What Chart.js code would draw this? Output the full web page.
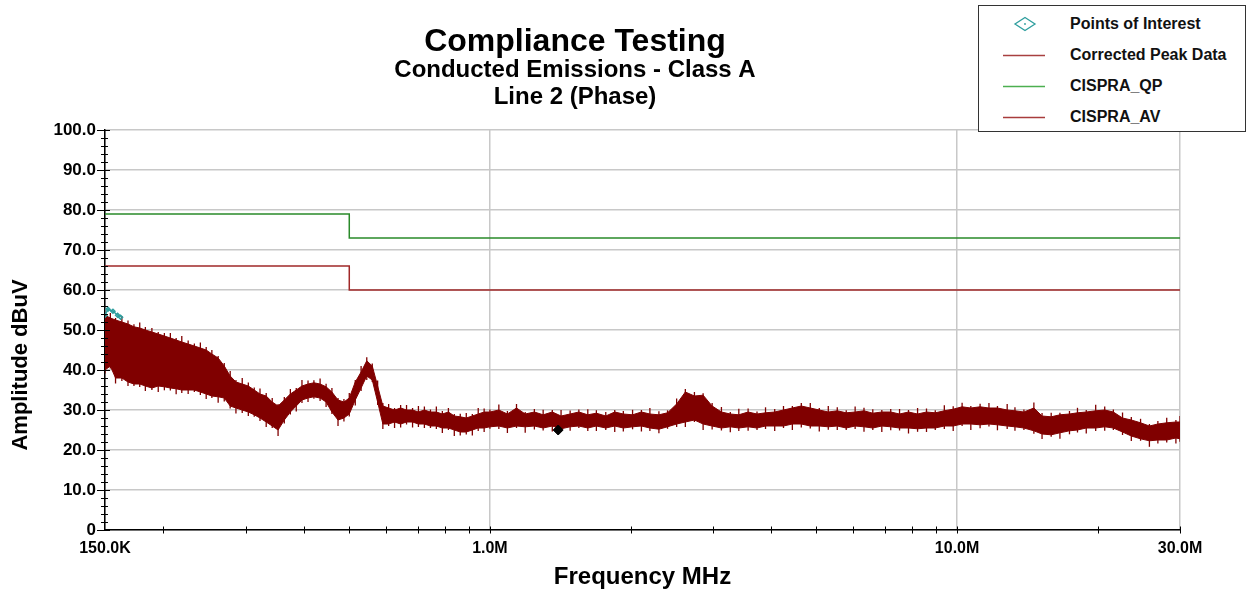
<!DOCTYPE html>
<html>
<head>
<meta charset="utf-8">
<title>Compliance Testing</title>
<script src="https://cdn.jsdelivr.net/npm/chart.js@4.4.1/dist/chart.umd.min.js"></script>
<style>
  body { margin: 0; background: #fff; font-family: "Liberation Sans", Arial, sans-serif; }
  #wrap { position: relative; width: 1248px; height: 595px; }
  #legend { position: absolute; left: 978px; top: 5px; width: 268px; height: 127px;
            box-sizing: border-box; border: 1px solid #333; background: #fff; }
  .row { position: absolute; left: 0; width: 100%; height: 20px; }
  .row svg { position: absolute; left: 24px; top: 0; }
  .row span { position: absolute; left: 91px; top: 0; line-height: 20px;
              font-size: 16px; font-weight: bold; color: #111; white-space: nowrap; }
</style>
</head>
<body>
<div id="wrap">
  <canvas id="chart" width="1248" height="595"></canvas>
  <div id="legend"></div>
</div>
<script>
// ==========================
// DATA
// ==========================
const titleMain = "Compliance Testing";
const titleSub1 = "Conducted Emissions - Class A";
const titleSub2 = "Line 2 (Phase)";
const xTitle = "Frequency MHz";
const yTitle = "Amplitude dBuV";

// x ticks (MHz)
const xTickValues = [0.15, 1, 10, 30];
const xTickLabels = ["150.0K", "1.0M", "10.0M", "30.0M"];
const xMinorTicks = [0.2, 0.3, 0.4, 0.5, 0.6, 0.7, 0.8, 0.9, 1, 2, 3, 4, 5, 6, 7, 8, 9, 10, 20, 30];

// limit lines
const qpFreq = [0.15, 0.5, 0.5, 30];
const qpLevel = [79, 79, 73, 73];
const avFreq = [0.15, 0.5, 0.5, 30];
const avLevel = [66, 66, 60, 60];

// corrected peak data: upper / lower envelope of the trace
const peakFreq = [
  0.150, 0.154, 0.158, 0.163, 0.168, 0.173, 0.178, 0.183, 0.189, 0.195,
  0.201, 0.207, 0.213, 0.219, 0.226, 0.233, 0.240, 0.247, 0.254, 0.262,
  0.270, 0.278, 0.286, 0.295, 0.304, 0.313, 0.322, 0.332, 0.342, 0.352,
  0.363, 0.374, 0.385, 0.396, 0.408, 0.420, 0.433, 0.446, 0.459, 0.473,
  0.487, 0.500,
  0.515, 0.530, 0.545, 0.560, 0.575, 0.590, 0.607, 0.625, 0.644, 0.663,
  0.683, 0.703, 0.724, 0.746, 0.768, 0.791, 0.815, 0.839, 0.864, 0.890,
  0.917, 0.944, 0.972,
  1.00, 1.045, 1.09, 1.14, 1.19, 1.245, 1.30, 1.36, 1.42, 1.485,
  1.55, 1.62, 1.69, 1.77, 1.85, 1.93, 2.02, 2.11, 2.20, 2.30,
  2.40, 2.51, 2.62, 2.74, 2.86, 2.99, 3.13, 3.27, 3.41, 3.57,
  3.73, 3.89, 4.07, 4.25, 4.44, 4.64, 4.85, 5.07, 5.30, 5.54,
  5.79, 6.05, 6.32, 6.60, 6.90, 7.21, 7.53, 7.87, 8.23, 8.60,
  8.98, 9.39, 9.81, 10.25, 10.7, 11.2, 11.7, 12.2, 12.8, 13.3,
  13.9, 14.6, 15.2, 15.9, 16.6, 17.4, 18.1, 18.9, 19.8, 20.7,
  21.6, 22.6, 23.6, 24.7, 25.8, 26.9, 28.1, 29.4, 30.0
];
const peakHi = [
  53.7, 53, 52.5, 52, 51.5, 50.8, 50.5, 50, 49.5, 49,
  48.5, 48, 47.5, 47, 46.5, 46, 45.5, 45, 44, 43,
  41, 38.5, 37, 36.5, 36, 35, 34, 33.5, 32, 31,
  32.5, 34, 35, 36, 36.5, 36.8, 36.5, 35.8, 34.5, 32.5,
  32, 33,
  37, 39.5, 42.3, 41, 36, 31, 30.5, 30, 30.5, 30,
  30, 29.5, 30, 29.5, 29.5, 29, 29.5, 28.5, 28.3, 28,
  28.5, 29, 29.5,
  29.5, 30, 29, 30.5, 29, 29.5, 28.8, 29.5, 28.5, 29,
  29.5, 28.8, 29.2, 28.5, 29.5, 29, 28.8, 29.5, 29, 28.8,
  29.3, 31.5, 34.5, 33.5, 33.7, 31, 29.5, 29, 28.8, 29.5,
  29, 29.3, 29.5, 30, 30.5, 31, 30.5, 30, 29.5, 29.8,
  29.3, 29.5, 29.8, 29.2, 29.5, 29.5, 29, 29.5, 29, 29.5,
  29.3, 29.8, 30.2, 30.8, 30.5, 30.8, 30.5, 30.5, 30, 29.8,
  29.5, 30.5, 28.5, 28.3, 28.8, 29, 29.3, 29.5, 29.8, 30,
  29.5, 28, 27.5, 26.8, 26, 26.5, 26.8, 27, 27
];
const peakLo = [
  40, 41, 38, 38, 37, 36.5, 36.5, 36, 35.5, 36,
  35.8, 35.5, 35.3, 35, 35, 35, 34.5, 34, 33.5, 33.3,
  33, 31, 30.5, 30, 29.5, 28.8, 28, 27, 26, 25,
  27.5, 29.5, 31, 32.5, 33, 33.3, 33, 32, 29.5, 27.5,
  28, 29,
  32.5, 35.5, 38.5, 37.5, 32, 26.5, 26.5, 27, 26.5, 27,
  27, 26.5, 26.5, 26, 26, 25.5, 25.5, 25, 24.5, 24.5,
  25, 25.5, 25.5,
  25.8, 26, 25.5, 26, 25.8, 26, 25.5, 26, 25.3, 25.8,
  26, 25.5, 26, 25.5, 26, 25.5, 25.8, 26, 25.5, 25.2,
  25.8, 26.5, 27, 27.5, 26.5, 26, 25.5, 25.8, 25.5, 25.8,
  25.5, 26, 26, 26, 26.5, 26.5, 26, 26, 25.8, 26,
  25.5, 26, 25.8, 25.5, 26, 25.8, 25.5, 25.5, 25.3, 25.5,
  25.5, 26, 26, 26.5, 26.5, 26.3, 26.5, 26.3, 26, 25.8,
  25.5, 24.8, 24, 23.8, 24.3, 24.8, 25, 25.5, 25.5, 25.8,
  25.5, 24.5, 23.5, 22.8, 22.3, 22.5, 22.5, 23, 22.8
];

// points of interest (teal) and cursor marker (black)
const poiFreq = [0.150, 0.1522, 0.156, 0.1596, 0.162];
const poiLevel = [53.7, 55.2, 54.7, 53.7, 53.2];
const markerFreq = [1.40];
const markerLevel = [25];

const legendLabels = ["Points of Interest", "Corrected Peak Data", "CISPRA_QP", "CISPRA_AV"];

// ==========================
// STYLE
// ==========================
const FONT = '"Liberation Sans", Arial, sans-serif';
const C_PEAK = "#800000";
const C_QP = "#2a8a2a";
const C_AV = "#a02828";
const C_POI = "#2e9e9e";
const C_GRID = "#c8c8c8";
// lengths of the hair strokes drawn on the trace edges (pure styling)
const HAIR = [3, 5, 2, 6, 3.5, 2.5, 5.5, 3, 4, 2];

function pts(xs, ys) {
  return xs.map((x, i) => ({ x: x, y: ys[i] }));
}

// ==========================
// LEGEND (html)
// ==========================
const legendEl = document.getElementById("legend");
const legendSamples = [
  '<svg width="44" height="20"><polygon points="22,3.5 32,10 22,16.5 12,10" fill="none" stroke="' + C_POI + '" stroke-width="1.3"/><circle cx="22" cy="10" r="0.9" fill="' + C_POI + '"/></svg>',
  '<svg width="44" height="20"><line x1="0" y1="10.5" x2="42" y2="10.5" stroke="#a84040" stroke-width="1.3"/></svg>',
  '<svg width="44" height="20"><line x1="0" y1="10.5" x2="42" y2="10.5" stroke="#4caf50" stroke-width="1.3"/></svg>',
  '<svg width="44" height="20"><line x1="0" y1="10.5" x2="42" y2="10.5" stroke="#a83c3c" stroke-width="1.3"/></svg>'
];
legendLabels.forEach((txt, i) => {
  const row = document.createElement("div");
  row.className = "row";
  row.style.top = (8 + i * 31) + "px";
  row.innerHTML = legendSamples[i] + "<span>" + txt + "</span>";
  legendEl.appendChild(row);
});

// ==========================
// DECOR PLUGIN (titles, crossing tick marks)
// ==========================
const decor = {
  id: "decor",
  afterDraw(chart) {
    const ctx = chart.ctx;
    const xs = chart.scales.x;
    const ys = chart.scales.y;
    const area = chart.chartArea;

    ctx.save();
    ctx.strokeStyle = "#000";
    ctx.lineWidth = 1;

    // y ticks every 2 units, crossing the axis
    for (let v = 0; v <= 100; v += 2) {
      const py = Math.round(ys.getPixelForValue(v)) + 0.5;
      const major = v % 10 === 0;
      ctx.beginPath();
      ctx.moveTo(area.left - (major ? 8 : 4), py);
      ctx.lineTo(area.left + (major ? 5 : 3), py);
      ctx.stroke();
    }

    // x ticks
    xMinorTicks.forEach(f => {
      const px = Math.round(xs.getPixelForValue(f)) + 0.5;
      ctx.beginPath();
      ctx.moveTo(px, area.bottom - 3.5);
      ctx.lineTo(px, area.bottom + 3.5);
      ctx.stroke();
    });

    // titles
    ctx.fillStyle = "#000";
    ctx.textAlign = "center";
    ctx.textBaseline = "middle";
    ctx.font = "bold 32px " + FONT;
    ctx.fillText(titleMain, 575, 42);
    ctx.font = "bold 24px " + FONT;
    ctx.fillText(titleSub1, 575, 70);
    ctx.fillText(titleSub2, 575, 97);

    // y axis title
    ctx.font = "bold 22px " + FONT;
    ctx.translate(21, 365);
    ctx.rotate(-Math.PI / 2);
    ctx.fillText(yTitle, 0, 0);
    ctx.restore();
  }
};

// ==========================
// CHART
// ==========================
Chart.defaults.font.family = FONT;
Chart.defaults.color = "#000";

const ctx = document.getElementById("chart").getContext("2d");

const chart = new Chart(ctx, {
  type: "line",
  data: {
    datasets: [
      {
        label: "marker",
        data: pts(markerFreq, markerLevel),
        showLine: false,
        pointStyle: "rectRot",
        pointRadius: 5,
        pointBackgroundColor: "#000",
        pointBorderColor: "#000"
      },
      {
        label: legendLabels[0],
        data: pts(poiFreq, poiLevel),
        borderColor: C_POI,
        borderWidth: 1.5,
        pointStyle: "rectRot",
        pointRadius: 2,
        pointBorderColor: C_POI,
        pointBackgroundColor: "rgba(0,0,0,0)",
        fill: false
      },
      {
        label: legendLabels[2],
        data: pts(qpFreq, qpLevel),
        borderColor: C_QP,
        borderWidth: 1.5,
        pointRadius: 0,
        fill: false
      },
      {
        label: legendLabels[3],
        data: pts(avFreq, avLevel),
        borderColor: C_AV,
        borderWidth: 1.5,
        pointRadius: 0,
        fill: false
      },
      {
        label: legendLabels[1],
        data: pts(peakFreq, peakHi),
        borderColor: C_PEAK,
        backgroundColor: C_PEAK,
        borderWidth: 1,
        pointStyle: "line",
        pointRotation: 90,
        pointRadius: c => HAIR[c.dataIndex % HAIR.length],
        pointBorderColor: C_PEAK,
        pointBorderWidth: 1.3,
        fill: "+1"
      },
      {
        label: "peak low",
        data: pts(peakFreq, peakLo),
        borderColor: C_PEAK,
        borderWidth: 1,
        pointStyle: "line",
        pointRotation: 90,
        pointRadius: c => HAIR[(c.dataIndex + 4) % HAIR.length],
        pointBorderColor: C_PEAK,
        pointBorderWidth: 1.3,
        fill: false
      }
    ]
  },
  options: {
    responsive: false,
    animation: false,
    layout: { padding: { top: 130, right: 68, left: 0, bottom: 0 } },
    plugins: {
      legend: { display: false },
      tooltip: { enabled: false },
      title: { display: false }
    },
    scales: {
      x: {
        type: "logarithmic",
        min: 0.15,
        max: 30,
        afterBuildTicks: s => { s.ticks = xTickValues.map(v => ({ value: v })); },
        afterFit: s => { s.height = 65; },
        ticks: {
          autoSkip: false,
          maxRotation: 0,
          padding: 9,
          color: "#000",
          font: { size: 16, weight: "bold" },
          callback: (v, i) => xTickLabels[i]
        },
        grid: { color: C_GRID, lineWidth: 1.5, drawTicks: false },
        border: { color: "#000", width: 1.5 },
        title: {
          display: true,
          text: xTitle,
          color: "#000",
          font: { size: 24, weight: "bold" },
          padding: { top: 0, bottom: 3 }
        }
      },
      y: {
        min: 0,
        max: 100,
        afterFit: s => { s.width = 105; },
        ticks: {
          stepSize: 10,
          padding: 9,
          color: "#000",
          font: { size: 17, weight: "bold" },
          callback: v => (v === 0 ? "0" : v.toFixed(1))
        },
        grid: { color: C_GRID, lineWidth: 1.5, drawTicks: false },
        border: { color: "#000", width: 1.5 }
      }
    }
  },
  plugins: [decor]
});
</script>
</body>
</html>
